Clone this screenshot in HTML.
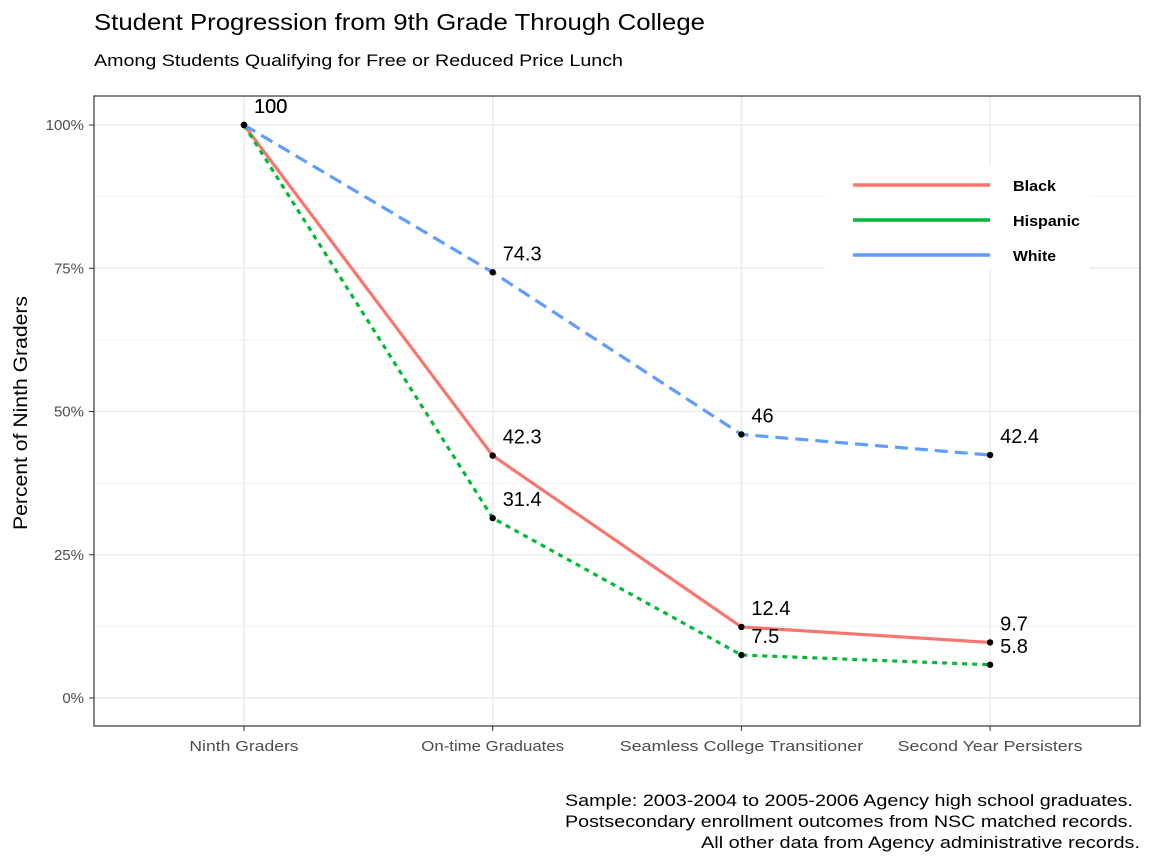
<!DOCTYPE html>
<html><head><meta charset="utf-8"><style>
body{margin:0;background:#fff;}
svg{display:block;font-family:"Liberation Sans",Arial,sans-serif;}
</style></head><body>
<svg id="chart" width="1152" height="864">
<text x="94" y="30" font-size="23" textLength="611" lengthAdjust="spacingAndGlyphs" fill="#000">Student Progression from 9th Grade Through College</text>
<text x="94" y="66" font-size="17" textLength="529" lengthAdjust="spacingAndGlyphs" fill="#000">Among Students Qualifying for Free or Reduced Price Lunch</text>
<g id="grid"></g>
<g id="axes"></g>
<g id="series"></g>
<rect x="94" y="96" width="1046" height="630" fill="none" stroke="#333" stroke-width="1.2"/>
<g>
<rect x="825" y="165" width="265" height="105" fill="#fff"/>
<g><line x1="853" y1="185" x2="990" y2="185" stroke="#F8766D" stroke-width="3.5"/><text x="1013" y="191" font-size="15" font-weight="bold" textLength="43" lengthAdjust="spacingAndGlyphs">Black</text></g>
<g><line x1="853" y1="220" x2="990" y2="220" stroke="#00BA38" stroke-width="3.5"/><text x="1013" y="226" font-size="15" font-weight="bold" textLength="67" lengthAdjust="spacingAndGlyphs">Hispanic</text></g>
<g><line x1="853" y1="255" x2="990" y2="255" stroke="#619CFF" stroke-width="3.5"/><text x="1013" y="261" font-size="15" font-weight="bold" textLength="43" lengthAdjust="spacingAndGlyphs">White</text></g>
</g>
<text transform="translate(27,413) rotate(-90)" text-anchor="middle" font-size="19" textLength="234" lengthAdjust="spacingAndGlyphs">Percent of Ninth Graders</text>
<g font-size="17">
<text x="565" y="806" textLength="568" lengthAdjust="spacingAndGlyphs">Sample: 2003-2004 to 2005-2006 Agency high school graduates.</text>
<text x="565" y="827" textLength="568" lengthAdjust="spacingAndGlyphs">Postsecondary enrollment outcomes from NSC matched records.</text>
<text x="701" y="848" textLength="439" lengthAdjust="spacingAndGlyphs">All other data from Agency administrative records.</text>
</g>
</svg>
<script>
const categories=["Ninth Graders","On-time Graduates","Seamless College Transitioner","Second Year Persisters"];
const blackValues=[100,42.3,12.4,9.7];
const hispanicValues=[100,31.4,7.5,5.8];
const whiteValues=[100,74.3,46,42.4];
const yTicks=[0,25,50,75,100];
const yTickLabels=["0%","25%","50%","75%","100%"];
const NS="http://www.w3.org/2000/svg";
const xPos=i=>244+i*248.7;
const yPos=v=>698-v*5.73;
function mk(tag,attrs,parent){const e=document.createElementNS(NS,tag);for(const k in attrs)e.setAttribute(k,attrs[k]);parent.appendChild(e);return e;}
const grid=document.getElementById('grid'),axes=document.getElementById('axes'),series=document.getElementById('series');
[12.5,37.5,62.5,87.5].forEach(v=>{const l=mk('line',{x1:94,x2:1140,y1:yPos(v),y2:yPos(v),stroke:'#f2f2f2','stroke-width':1},grid);

});
yTicks.forEach((v,i)=>{const l=mk('line',{x1:94,x2:1140,y1:yPos(v),y2:yPos(v),stroke:'#ebebeb','stroke-width':1.5},grid);


const t=mk('text',{x:84,y:yPos(v)+5,'text-anchor':'end','font-size':15,fill:'#4d4d4d'},axes);t.textContent=yTickLabels[i];


mk('line',{x1:89,x2:94,y1:yPos(v),y2:yPos(v),stroke:'#333'},axes);});
categories.forEach((c,i)=>{const l=mk('line',{x1:xPos(i),x2:xPos(i),y1:96,y2:726,stroke:'#ebebeb','stroke-width':1.5},grid);


mk('line',{x1:xPos(i),x2:xPos(i),y1:726,y2:731,stroke:'#333'},axes);
const t=mk('text',{x:xPos(i),y:751,'text-anchor':'middle','font-size':15,fill:'#4d4d4d',textLength:c.length*8.4,lengthAdjust:'spacingAndGlyphs'},axes);t.textContent=c;

});
const defs=[["black",blackValues,"#F8766D",""],["hispanic",hispanicValues,"#00BA38","5,5"],["white",whiteValues,"#619CFF","13,7"]];
defs.forEach(([n,vals,col,dash])=>{
const p=mk('polyline',{points:vals.map((v,i)=>xPos(i)+','+yPos(v)).join(' '),fill:'none',stroke:col,'stroke-width':3.2,'stroke-dasharray':dash},series);

});
defs.forEach(([n,vals])=>{vals.forEach((v,i)=>{
const c=mk('circle',{cx:xPos(i),cy:yPos(v),r:3.2,fill:'#000'},series);


const t=mk('text',{x:xPos(i)+10,y:yPos(v)-12,'font-size':20,fill:'#000'},series);t.textContent=String(v);

});});
</script>
</body></html>
